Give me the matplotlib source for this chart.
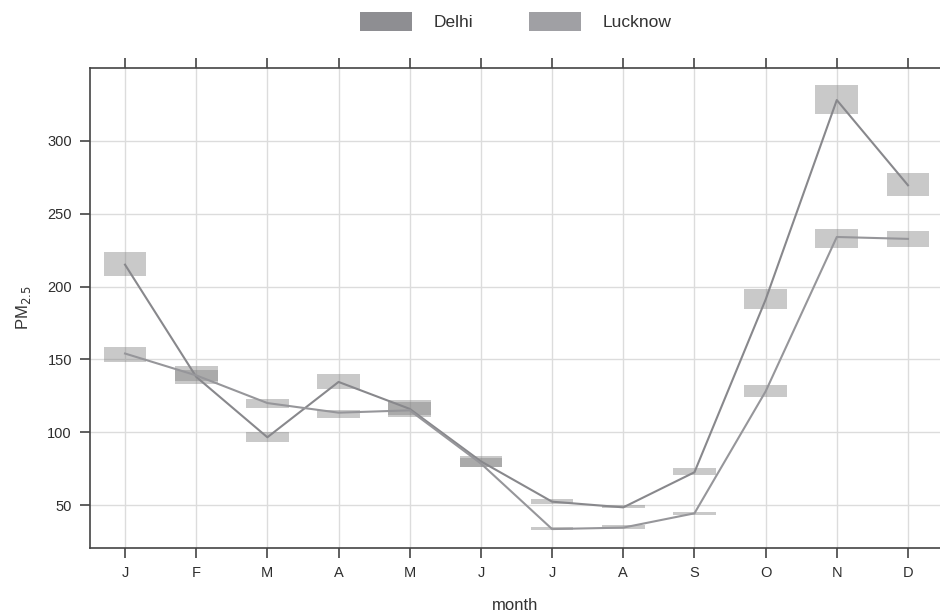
import matplotlib.pyplot as plt
from matplotlib.patches import Patch

plt.rcParams['font.family'] = ['Liberation Sans', 'DejaVu Sans']

months = ['J', 'F', 'M', 'A', 'M', 'J', 'J', 'A', 'S', 'O', 'N', 'D']

# monthly mean PM2.5 with interval bounds
delhi = [215, 138, 96.5, 134.5, 116, 80, 52.3, 48.4, 72.5, 191, 328, 269.5]
delhi_lo = [207.5, 133, 93.5, 129.5, 111.5, 76, 50.7, 47.7, 70.6, 184.6, 318.3, 262.2]
delhi_hi = [224, 143, 100.3, 140, 120.5, 83.5, 54, 50, 75.2, 198, 338.5, 277.8]

lucknow = [154, 139, 120, 113.4, 115, 78.5, 33.5, 34.5, 44.3, 128, 234, 232.7]
lucknow_lo = [148, 135, 116.4, 109.5, 110.6, 76, 32.6, 33.5, 43.1, 124.4, 226.7, 227.4]
lucknow_hi = [158.3, 145.5, 122.6, 115, 122, 82, 34.8, 36, 45.4, 132.2, 239.7, 238]

x = list(range(1, 13))

fig = plt.figure(figsize=(9.4, 6.13), dpi=100)
ax = fig.add_axes([90/940, 65/613, 850/940, 480/613])

band = '#808080'
ax.bar(x, [h - l for h, l in zip(delhi_hi, delhi_lo)], bottom=delhi_lo,
       width=0.6, color=band, alpha=0.42, linewidth=0, zorder=2)
ax.bar(x, [h - l for h, l in zip(lucknow_hi, lucknow_lo)], bottom=lucknow_lo,
       width=0.6, color=band, alpha=0.42, linewidth=0, zorder=2)

ax.plot(x, delhi, color='#88888c', lw=1.5, zorder=3)
ax.plot(x, lucknow, color='#96969a', lw=1.5, zorder=3)

ax.set_xlim(0.508, 12.45)
ax.set_ylim(20.5, 350)
ax.set_xticks(x)
ax.set_xticklabels(months)
ax.set_yticks([50, 100, 150, 200, 250, 300])

ax.grid(True, color='#dcdcdc', lw=1)
ax.set_axisbelow(True)

for s in ['left', 'top', 'bottom']:
    ax.spines[s].set_color('#444444')
    ax.spines[s].set_linewidth(1.2)
ax.spines['right'].set_visible(False)

ax.tick_params(axis='both', colors='#444444', labelcolor='#2e2e2e',
               labelsize=10.5, length=7, width=1.2, direction='out', pad=6)
ax.tick_params(axis='x', top=True, labeltop=False)

ax.set_xlabel('month', fontsize=12, color='#333333', labelpad=13)
ax.set_ylabel('PM$_{2.5}$', fontsize=12, color='#333333', labelpad=10)

handles = [Patch(facecolor='#8e8e92', label='Delhi'),
           Patch(facecolor='#a0a0a4', label='Lucknow')]
fig.legend(handles=handles, loc='upper center', bbox_to_anchor=(516/940, 1.006),
           ncol=2, frameon=False, fontsize=12.5, handlelength=3.0,
           handleheight=1.35, columnspacing=3.2, handletextpad=1.25,
           labelcolor='#333333')

fig.savefig('out.png', dpi=100)
